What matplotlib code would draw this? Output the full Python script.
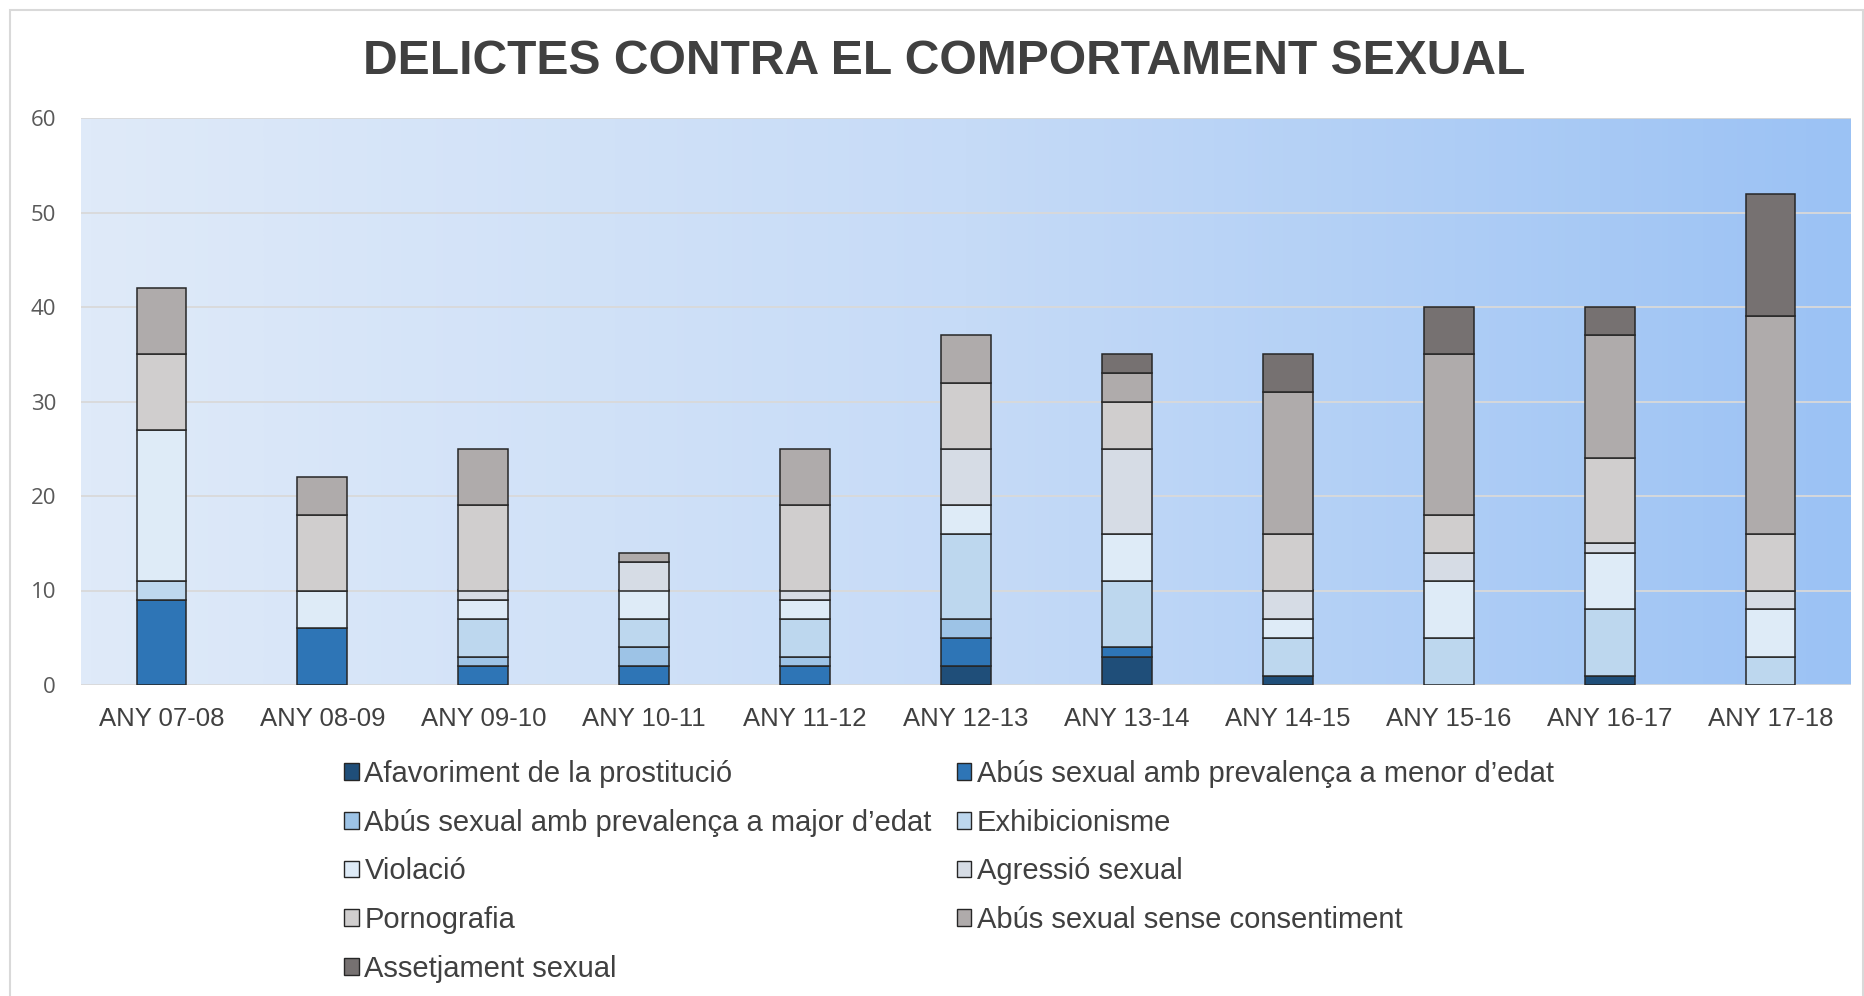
import matplotlib
matplotlib.use('Agg')
import matplotlib.pyplot as plt
import numpy as np
from matplotlib.patches import Rectangle, Patch
from matplotlib.colors import LinearSegmentedColormap

years = ["ANY 07-08", "ANY 08-09", "ANY 09-10", "ANY 10-11", "ANY 11-12", "ANY 12-13",
         "ANY 13-14", "ANY 14-15", "ANY 15-16", "ANY 16-17", "ANY 17-18"]

labels = ["Afavoriment de la prostitució",
          "Abús sexual amb prevalença a menor d’edat",
          "Abús sexual amb prevalença a major d’edat",
          "Exhibicionisme",
          "Violació",
          "Agressió sexual",
          "Pornografia",
          "Abús sexual sense consentiment",
          "Assetjament sexual"]

afavoriment = [0, 0, 0, 0, 0, 2, 3, 1, 0, 1, 0]
abus_menor = [9, 6, 2, 2, 2, 3, 1, 0, 0, 0, 0]
abus_major = [0, 0, 1, 2, 1, 2, 0, 0, 0, 0, 0]
exhibicionisme = [2, 0, 4, 3, 4, 9, 7, 4, 5, 7, 3]
violacio = [16, 4, 2, 3, 2, 3, 5, 2, 6, 6, 5]
agressio = [0, 0, 1, 3, 1, 6, 9, 3, 3, 1, 2]
pornografia = [8, 8, 9, 0, 9, 7, 5, 6, 4, 9, 6]
abus_sense = [7, 4, 6, 1, 6, 5, 3, 15, 17, 13, 23]
assetjament = [0, 0, 0, 0, 0, 0, 2, 4, 5, 3, 13]

series = [afavoriment, abus_menor, abus_major, exhibicionisme, violacio,
          agressio, pornografia, abus_sense, assetjament]
colors = ["#1f4e79", "#2e75b6", "#9dc3e6", "#bdd7ee", "#deebf7",
          "#d6dce5", "#d0cece", "#afabab", "#767171"]

W, H = 1865, 996
fig = plt.figure(figsize=(W / 100, H / 100), dpi=100)
fig.patch.set_facecolor('white')

# outer chart border
fig.patches.append(Rectangle((10 / W, -5 / H), (W - 12) / W, (H - 5) / H,
                             transform=fig.transFigure, fill=False,
                             edgecolor='#d9d9d9', linewidth=1.5))

ax = fig.add_axes([81 / W, 1 - 685 / H, (1851 - 81) / W, (685 - 118) / H])

x = np.arange(len(years))
# gradient background
cmap = LinearSegmentedColormap.from_list('bg', ['#dfeaf9', '#c6dbf7', '#9bc2f4'])
grad = np.linspace(0, 1, 256).reshape(1, -1)
ax.imshow(grad, cmap=cmap, aspect='auto', extent=[-0.5, 10.5, 0, 60],
          zorder=0, interpolation='bicubic')

ax.set_xlim(-0.5, 10.5)
ax.set_ylim(0, 60)
for yv in range(10, 61, 10):
    ax.axhline(yv, color='#d9d9d9', linewidth=1.3, zorder=1)
ax.axhline(0, color='#d9d9d9', linewidth=1.3, zorder=1)

bottom = np.zeros(len(years))
for vals, col, lab in zip(series, colors, labels):
    v = np.array(vals, dtype=float)
    bars = ax.bar(x, v, 0.31, bottom=bottom, color=col, edgecolor='#262626',
                  linewidth=1.1, zorder=3, label=lab)
    for b, val in zip(bars, v):
        if val == 0:
            b.set_visible(False)
    bottom += v

for s in ax.spines.values():
    s.set_visible(False)

ax.set_xticks(x)
ax.set_xticklabels(years, fontsize=18.5, color='#404040', family='Liberation Sans')
ax.set_yticks(range(0, 61, 10))
ax.set_yticklabels([str(v) for v in range(0, 61, 10)], fontsize=16,
                   color='#595959', family='Open Sans')
ax.tick_params(axis='both', length=0)
ax.tick_params(axis='x', pad=16)
ax.tick_params(axis='y', pad=18)

fig.text(0.506, 1 - 62 / H, "DELICTES CONTRA EL COMPORTAMENT SEXUAL",
         ha='center', va='center', fontsize=34.6, fontweight='bold',
         color='#404040', family='Liberation Sans')

handles = [Patch(facecolor=c, edgecolor='#262626', linewidth=1.0) for c in colors]
order = [0, 2, 4, 6, 8, 1, 3, 5, 7]
leg = fig.legend([handles[i] for i in order], [labels[i] for i in order],
                 ncol=2, loc='upper left', bbox_to_anchor=(344 / W, 1 - 760 / H),
                 frameon=False, prop={'family': 'Liberation Sans', 'size': 21},
                 handlelength=0.5, handleheight=0.5, handletextpad=0.2,
                 columnspacing=0.85, labelspacing=0.71, borderpad=0, borderaxespad=0,
                 labelcolor='#404040')

fig.savefig('out.png', dpi=100)
